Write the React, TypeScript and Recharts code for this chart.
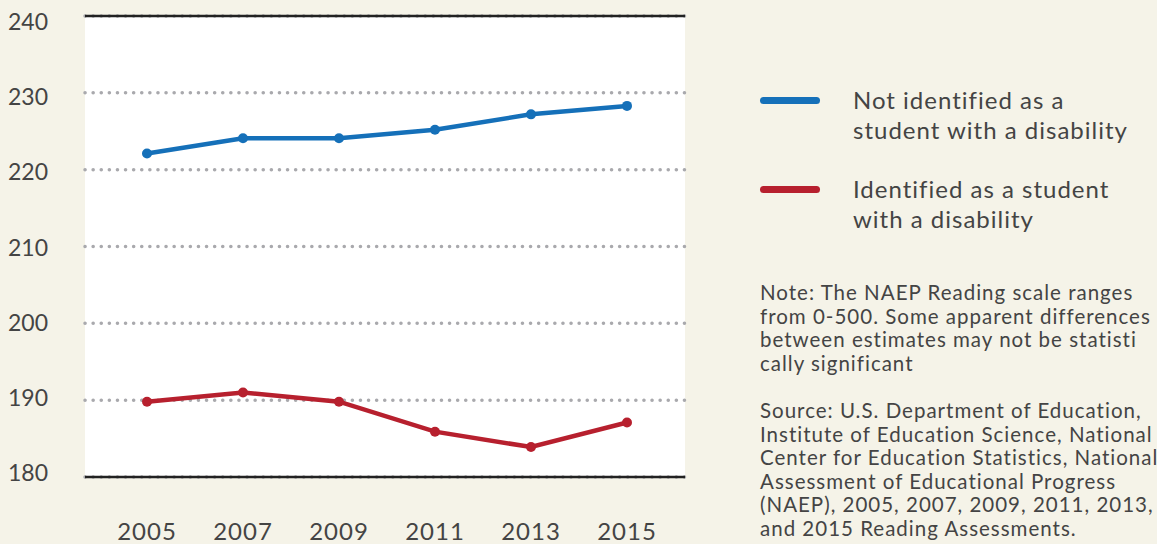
import React from "react";
import {
  LineChart,
  Line,
  XAxis,
  YAxis,
  CartesianGrid,
  ReferenceLine,
} from "recharts";

const years = ["2005", "2007", "2009", "2011", "2013", "2015"];
const notIdentified = [222.1, 224.1, 224.1, 225.2, 227.2, 228.3];
const identified = [189.8, 191.0, 189.8, 185.9, 183.9, 187.1];
const yTicks = [180, 190, 200, 210, 220, 230, 240];

const series = [
  { key: "notIdentified", name: "Not identified as a\nstudent with a disability", color: "#1570b9" },
  { key: "identified", name: "Identified as a student\nwith a disability", color: "#b7202e" },
];

const noteText =
  "Note: The NAEP Reading scale ranges\nfrom 0-500. Some apparent differences\nbetween estimates may not be statisti\ncally significant";
const sourceText =
  "Source: U.S. Department of Education,\nInstitute of Education Science, National\nCenter for Education Statistics, National\nAssessment of Educational Progress\n(NAEP), 2005, 2007, 2009, 2011, 2013,\nand 2015 Reading Assessments.";

const data = years.map((year, i) => ({
  year,
  notIdentified: notIdentified[i],
  identified: identified[i],
}));

const FONT = "Lato, 'Noto Sans', sans-serif";
const TEXT = "#444";

if (typeof document !== "undefined") document.body.style.margin = "0";

// labels in the original sit a bit below their gridlines, more so near the top
const YTick = ({ y, payload }: any) => (
  <text
    x={8}
    y={y}
    dy={4 + ((payload.value - 180) / 60) * 10}
    textAnchor="start"
    fontSize={23}
    fill={TEXT}
    fontFamily={FONT}
  >
    {payload.value}
  </text>
);

const noteStyle: React.CSSProperties = {
  position: "absolute",
  left: 760,
  fontFamily: FONT,
  color: TEXT,
  fontSize: 20.5,
  letterSpacing: 1,
  lineHeight: "23.5px",
  whiteSpace: "pre",
};

export default function App() {
  return (
    <div style={{ position: "relative", width: 1157, height: 544, background: "#f5f3e8", overflow: "hidden" }}>
      <LineChart width={1157} height={544} data={data} margin={{ top: 16, right: 472, left: 0, bottom: 0 }}>
        <CartesianGrid
          vertical={false}
          fill="#ffffff"
          fillOpacity={1}
          stroke="#a9a9ad"
          strokeWidth={3.5}
          strokeDasharray="0.1 8"
          strokeLinecap="round"
        />
        <XAxis
          dataKey="year"
          height={67}
          padding={{ left: 62, right: 58 }}
          tickLine={false}
          axisLine={{ stroke: "#222", strokeWidth: 2.5 }}
          tick={{ fontSize: 24, fill: TEXT, fontFamily: FONT, letterSpacing: 1 }}
          dy={38}
          interval={0}
        />
        <YAxis
          width={85}
          domain={[180, 240]}
          ticks={yTicks}
          axisLine={false}
          tickLine={false}
          tick={<YTick />}
        />
        <ReferenceLine y={240} stroke="#222" strokeWidth={2.5} />
        {series.map((s) => (
          <Line
            key={s.key}
            dataKey={s.key}
            stroke={s.color}
            strokeWidth={4.5}
            dot={{ r: 5, fill: s.color, stroke: s.color, strokeWidth: 0 }}
            isAnimationActive={false}
          />
        ))}
      </LineChart>
      {series.map((s, i) => (
        <div key={s.key} style={{ position: "absolute", left: 760, top: 85 + i * 89, fontFamily: FONT, color: TEXT }}>
          <div
            style={{
              position: "absolute",
              left: 0,
              top: 12,
              width: 60,
              height: 7,
              borderRadius: 4,
              background: s.color,
            }}
          />
          <div
            style={{
              position: "absolute",
              left: 93,
              top: 0,
              fontSize: 24,
              letterSpacing: 1,
              lineHeight: "30px",
              whiteSpace: "pre",
            }}
          >
            {s.name}
          </div>
        </div>
      ))}
      <div style={{ ...noteStyle, top: 281 }}>{noteText}</div>
      <div style={{ ...noteStyle, top: 399 }}>{sourceText}</div>
    </div>
  );
}
